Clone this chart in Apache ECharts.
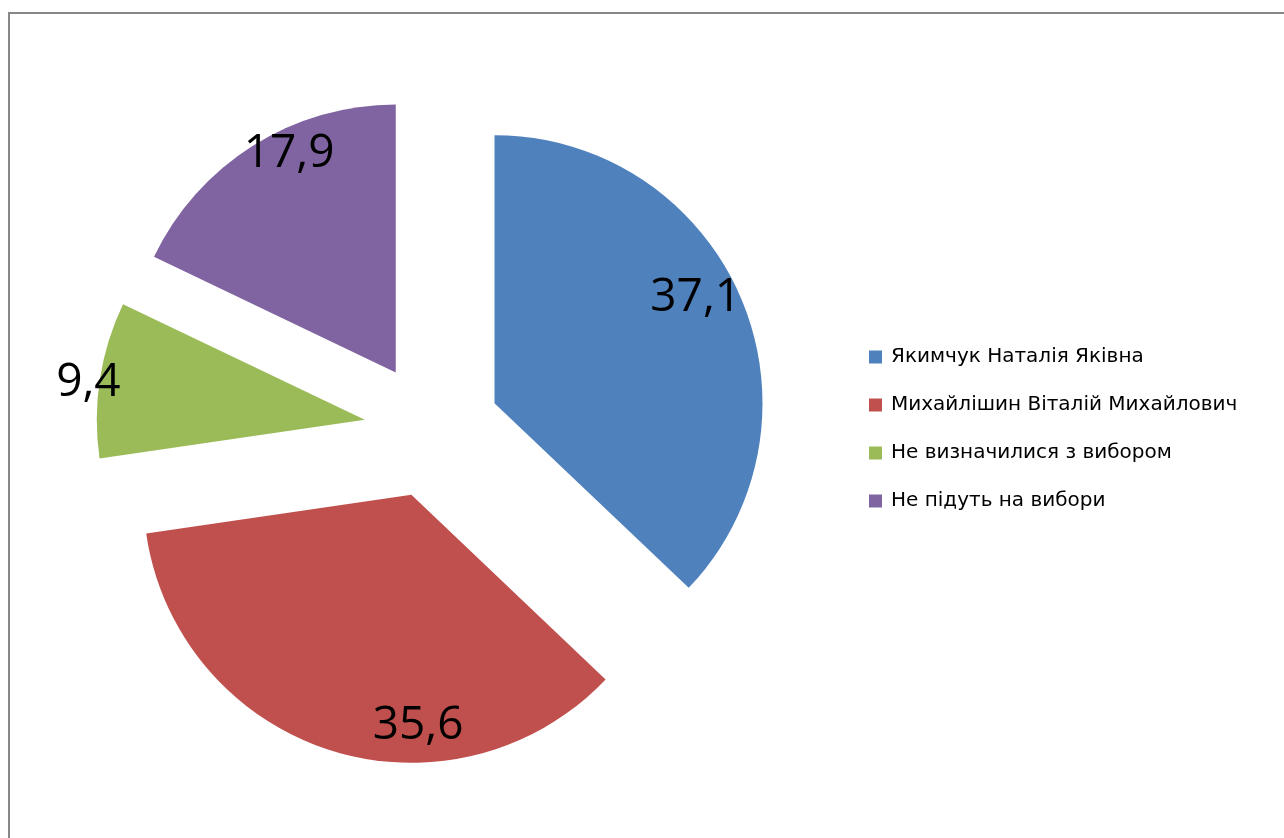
<!DOCTYPE html>
<html>
<head>
<meta charset="utf-8">
<script src="https://cdn.jsdelivr.net/npm/echarts@6/dist/echarts.min.js"></script>
<style>
html, body { margin: 0; padding: 0; background: #fff; }
#pieChart { width: 1284px; height: 838px; }
</style>
</head>
<body>
<div id="pieChart"></div>
<script>
let names = ['Якимчук Наталія Яківна', 'Михайлішин Віталій Михайлович', 'Не визначилися з вибором', 'Не підуть на вибори']
let values = [37.1, 35.6, 9.4, 17.9]
let colors = ['#4f81bd', '#c0504d', '#9bbb59', '#8064a2']
// Excel put the labels a little off the middle of each slice
let labelNudge = [[-12, -14], [77, 10], [-47, -2], [17, -22]]

let pieChart = echarts.init(document.getElementById('pieChart'))

let center = [432, 430]
let slices = names.map((n, i) => ({
    name: n,
    value: values[i],
    selected: true,
    itemStyle: { color: colors[i] }
}))
let labelSlices = names.map((n, i) => ({
    name: n,
    value: values[i],
    selected: true
}))

let option = {
    animation: false,
    color: colors,
    graphic: [
        {
            type: 'rect',
            shape: { x: 9, y: 13, width: 1400, height: 1000 },
            style: { fill: 'none', stroke: '#878787', lineWidth: 2 },
            silent: true
        }
    ],
    legend: {
        orient: 'vertical',
        left: 869,
        top: 347,
        padding: 0,
        icon: 'rect',
        itemWidth: 13,
        itemHeight: 13,
        itemGap: 28,
        selectedMode: false,
        data: names,
        textStyle: {
            fontFamily: 'DejaVu Sans',
            fontSize: 20,
            lineHeight: 20,
            color: '#000',
            padding: [0, 0, 0, 4]
        }
    },
    series: [
        {
            name: 'pie',
            type: 'pie',
            center: center,
            radius: [0, 268],
            startAngle: 90,
            selectedMode: 'multiple',
            selectedOffset: 68,
            silent: true,
            label: { show: false },
            labelLine: { show: false },
            emphasis: { scale: false },
            select: { itemStyle: { borderWidth: 0 } },
            data: slices
        },
        {
            name: 'labels',
            type: 'pie',
            center: center,
            radius: [190, 268],
            startAngle: 90,
            selectedMode: 'multiple',
            selectedOffset: 68,
            silent: true,
            itemStyle: { color: 'transparent' },
            select: { itemStyle: { color: 'transparent', borderWidth: 0 } },
            emphasis: { scale: false },
            labelLine: { show: false },
            label: {
                show: true,
                position: 'inside',
                fontFamily: 'Open Sans',
                fontSize: 46,
                color: '#000',
                formatter: p => String(p.value).replace('.', ',')
            },
            labelLayout: p => ({ dx: labelNudge[p.dataIndex][0], dy: labelNudge[p.dataIndex][1] }),
            data: labelSlices
        }
    ]
}

pieChart.setOption(option)
</script>
</body>
</html>
